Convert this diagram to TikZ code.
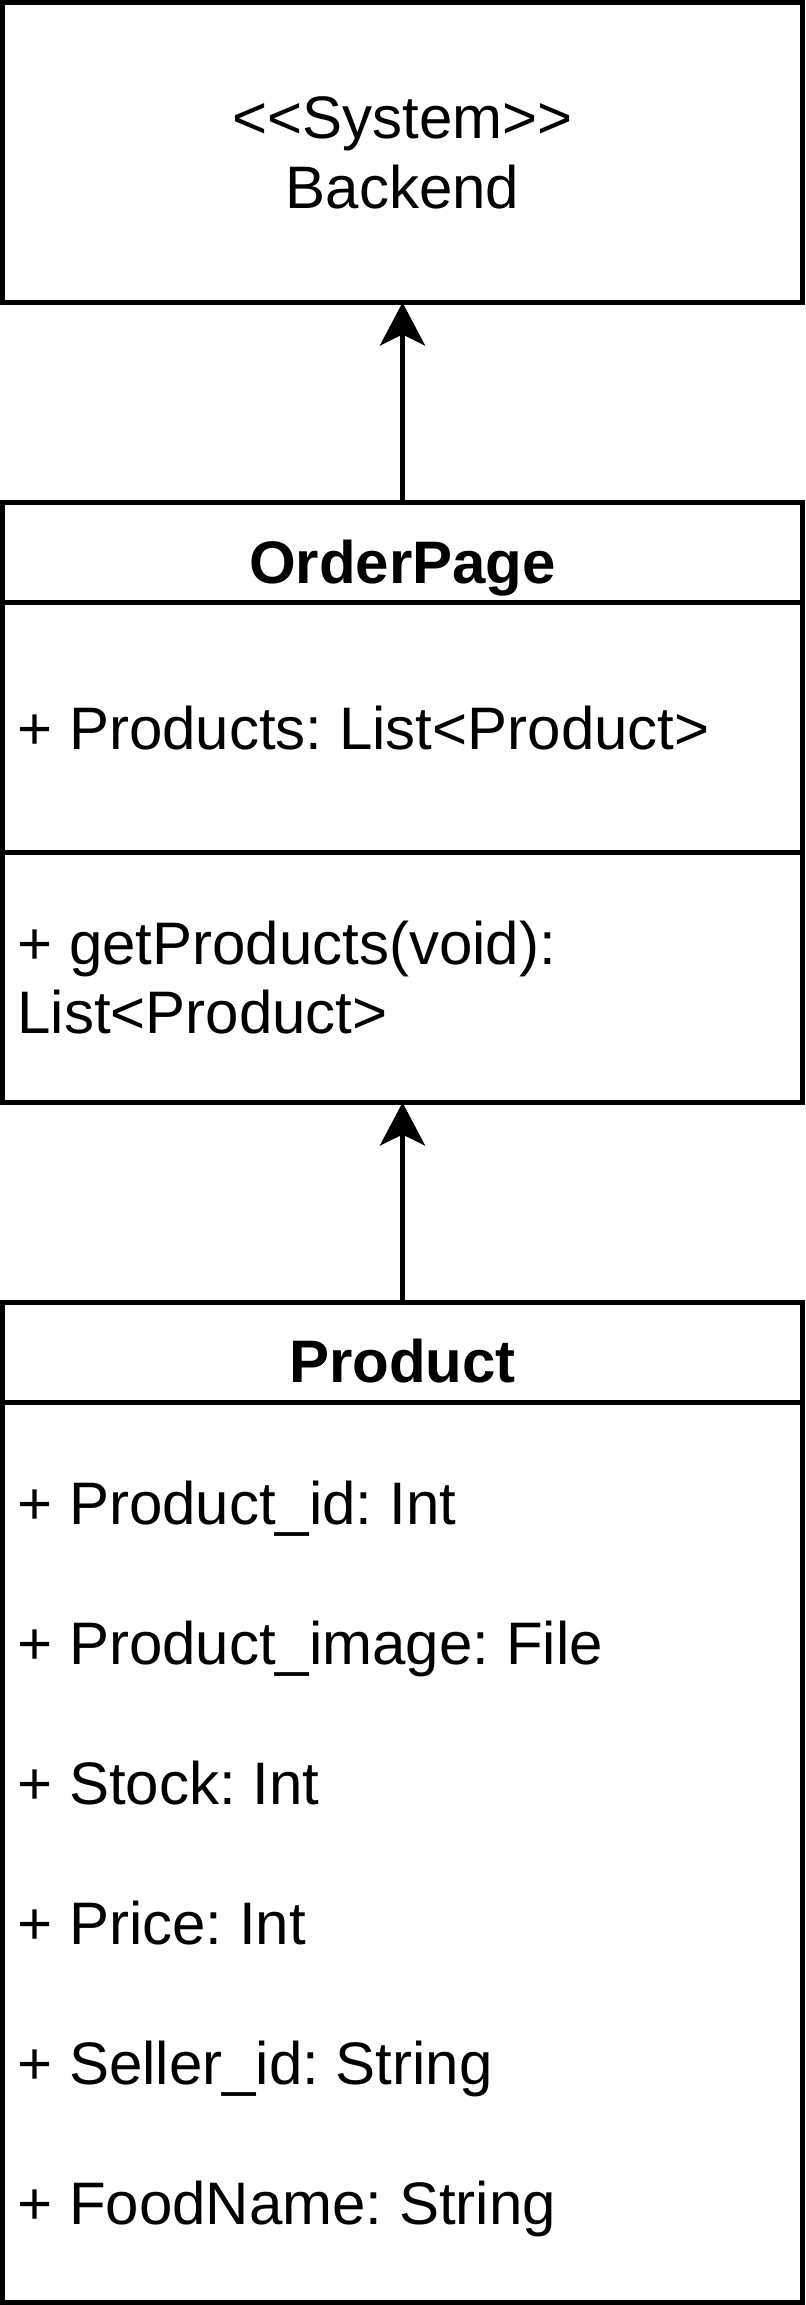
\documentclass[tikz,border=0pt]{standalone}
\usepackage{fontspec}
\setmainfont{Liberation Sans}
\usetikzlibrary{arrows.meta}
\frenchspacing

\begin{document}
\begin{tikzpicture}[x=0.5pt,y=-0.5pt,line width=2.5pt,
                    font=\fontsize{30pt}{35pt}\selectfont]
\useasboundingbox (0,0) rectangle (805,2305);

\begin{scope}[every node/.style={rectangle,draw,outer sep=0pt,inner sep=0pt,minimum width=400pt}]
    \node[minimum height=150pt,align=center] (Backend) at (402.5,152.5) {<\kern0pt<System>\kern0pt>\\Backend};
    \node[minimum height=300pt] (OrderPage) at (402.5,802.5) {};
    \node[minimum height=500pt] (Product) at (402.5,1802.5) {};
\end{scope}

% compartments
\draw ([yshift=-50pt]OrderPage.north west) -- ([yshift=-50pt]OrderPage.north east);
\draw ([yshift=-175pt]OrderPage.north west) -- ([yshift=-175pt]OrderPage.north east);
\draw ([yshift=-50pt]Product.north west) -- ([yshift=-50pt]Product.north east);

\begin{scope}[every node/.style={anchor=base west,inner sep=0pt}]
    \node[anchor=base] (OrderTitle) at (402.5,583) {\bfseries OrderPage};
    \node (OrderAttr) at (15,749) {+ Products: List<Product>};
    \node (OrderOp) at (15,964) {+ getProducts(void):};
    \node (OrderOpType) at (15,1033) {List<Product>};

    \node[anchor=base] (ProductTitle) at (402.5,1382) {\bfseries Product};
    \node (ProductId) at (15,1524) {+ Product\_id: Int};
    \node (ProductImage) at (15,1664) {+ Product\_image: File};
    \node (ProductStock) at (15,1804) {+ Stock: Int};
    \node (ProductPrice) at (15,1944) {+ Price: Int};
    \node (ProductSeller) at (15,2084) {+ Seller\_id: String};
    \node (ProductName) at (15,2224) {+ FoodName: String};
\end{scope}

\begin{scope}[>={Stealth[length=21.5pt,width=22.5pt,inset=5.5pt]}]
    \path [->] (OrderPage) edge (Backend);
    \path [->] (Product) edge (OrderPage);
\end{scope}
\end{tikzpicture}
\end{document}
